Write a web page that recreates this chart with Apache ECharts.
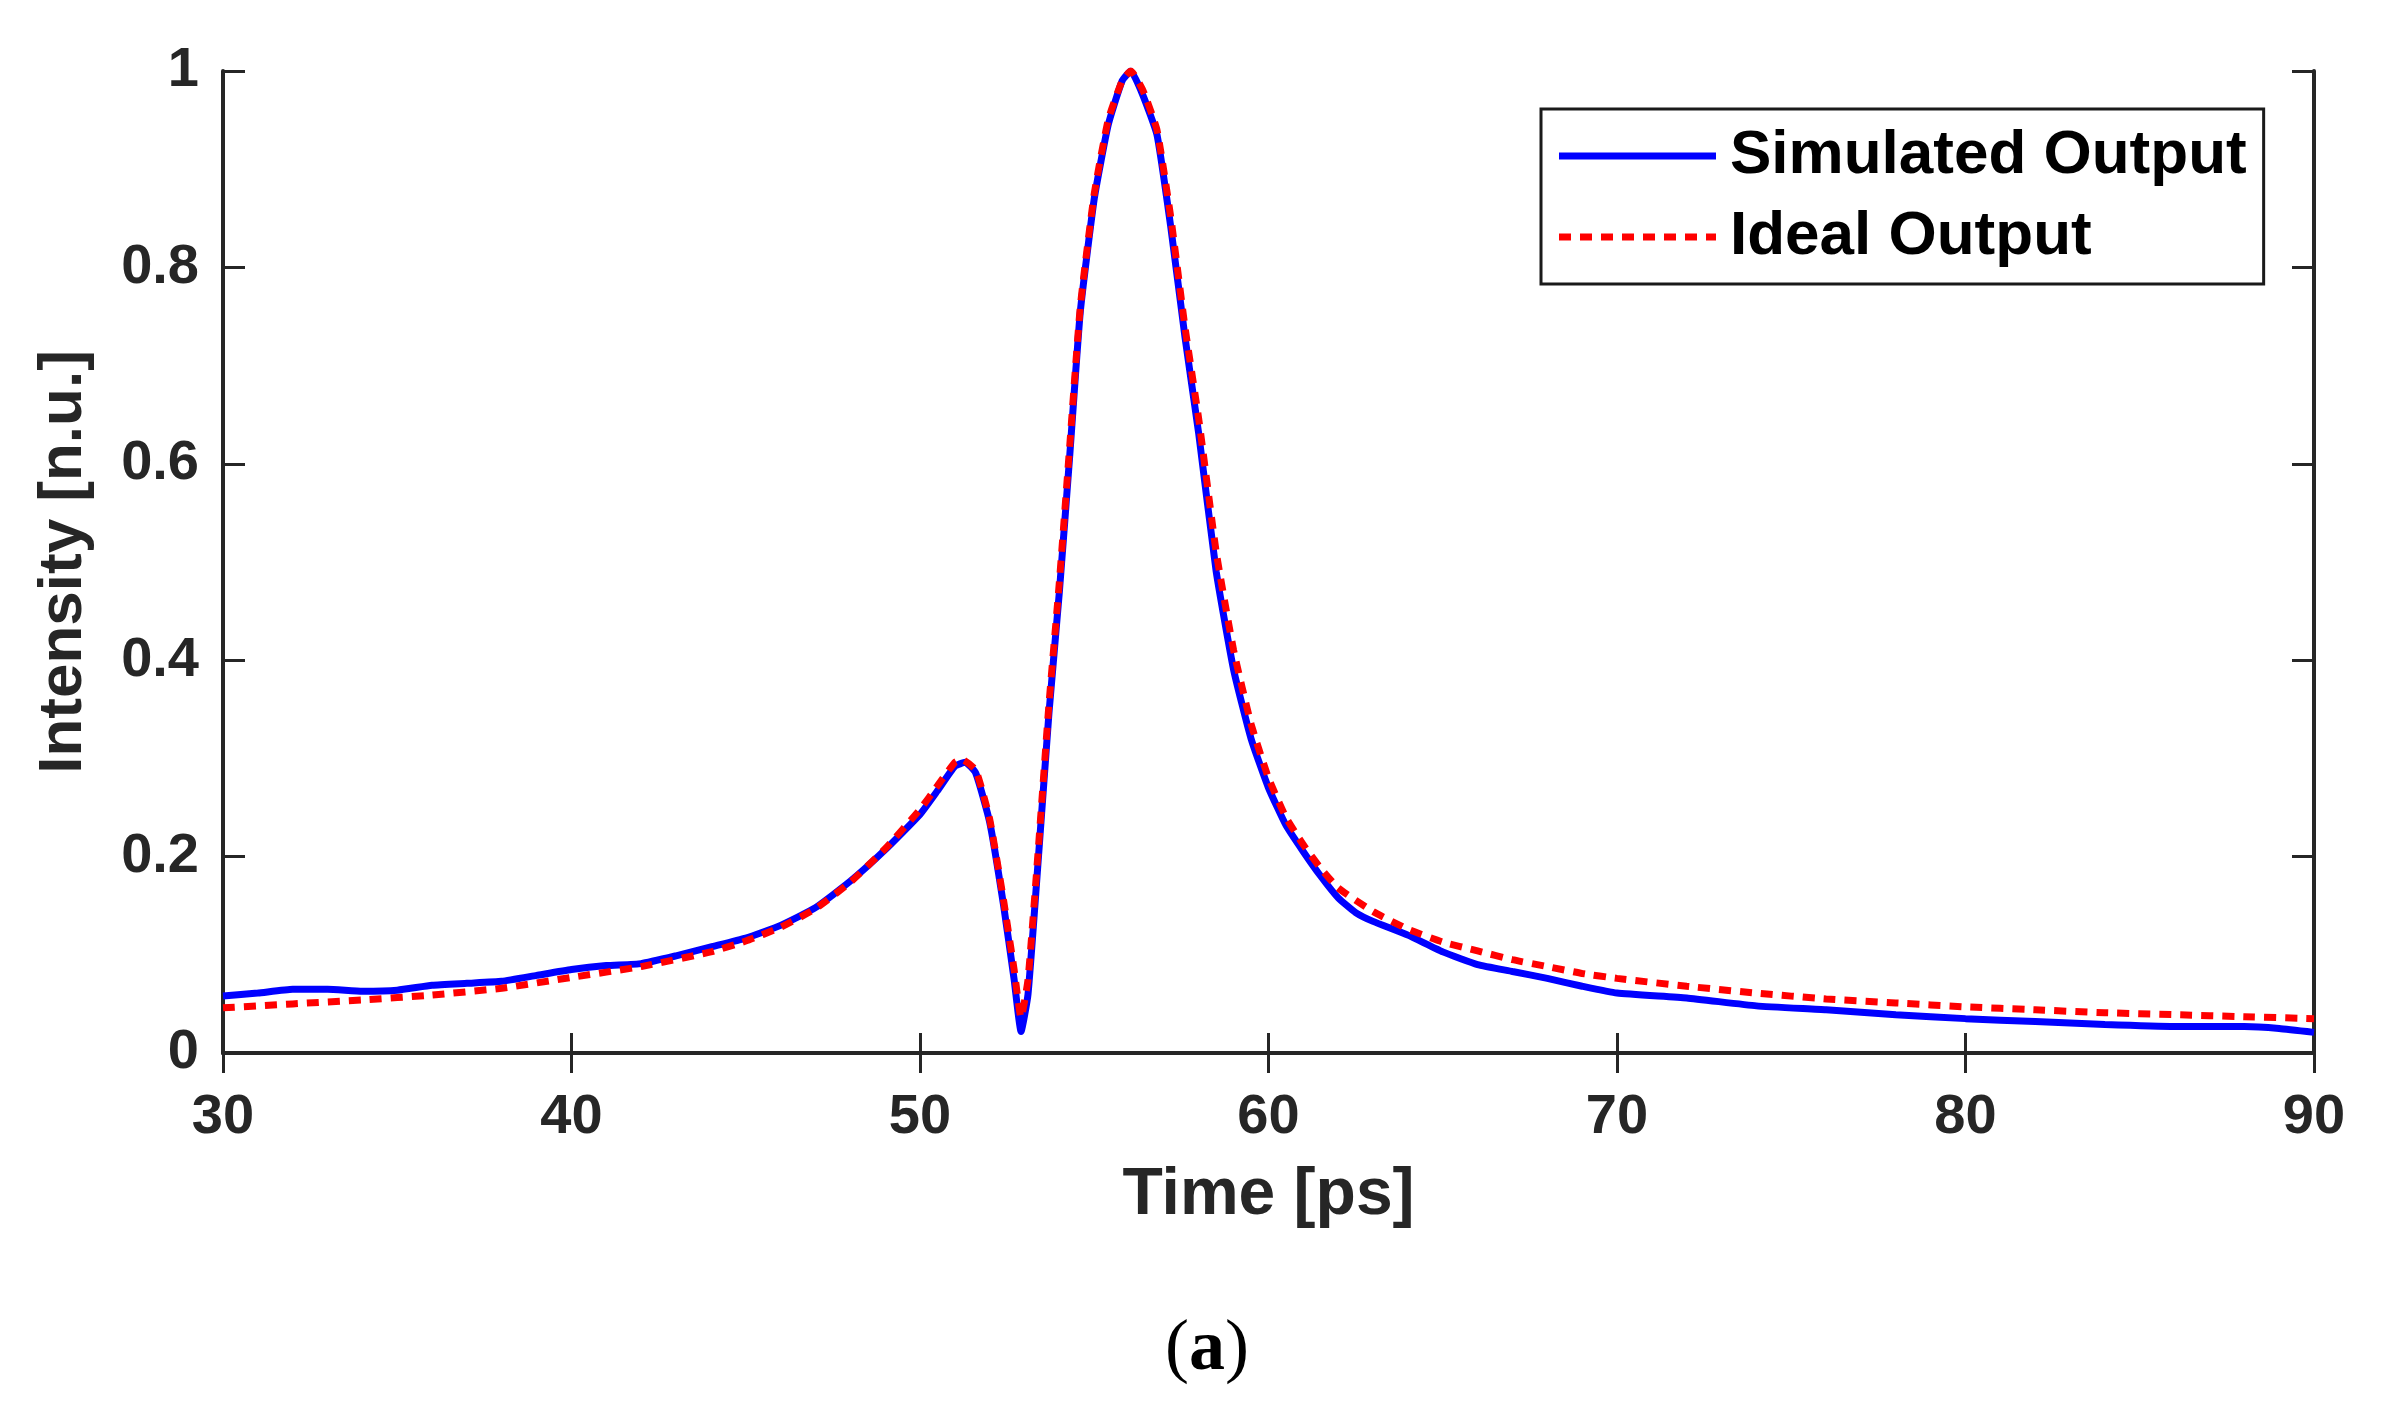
<!DOCTYPE html>
<html>
<head>
<meta charset="utf-8">
<title>Intensity vs Time</title>
<script src="https://cdn.jsdelivr.net/npm/echarts/dist/echarts.min.js"></script>
<style>
	html, body { margin: 0; padding: 0; background: #fff; }
	.chart { width: 2393px; height: 1426px; }
</style>
</head>
<body>
<div class="chart"></div>
<script>
// 仿真输出
var simTime = [30, 31, 32, 33, 34, 35, 36, 37, 38, 39, 40, 41, 42, 43, 44, 45, 46, 47, 48, 49, 50, 50.5, 51, 51.3, 51.6, 52, 52.4, 52.7, 52.9, 53.1, 53.4, 53.7, 54, 54.3, 54.6, 55, 55.4, 55.8, 56.05, 56.4, 56.8, 57.2, 57.6, 58, 58.5, 59, 59.5, 60, 60.5, 61, 61.5, 62, 62.5, 63, 64, 65, 66, 67, 68, 69, 70, 72, 74, 76, 78, 80, 82, 84, 86, 88, 89, 90];
var simIntensity = [0.058, 0.061, 0.065, 0.065, 0.063, 0.064, 0.069, 0.071, 0.073, 0.079, 0.085, 0.089, 0.091, 0.099, 0.108, 0.117, 0.130, 0.148, 0.175, 0.207, 0.243, 0.267, 0.292, 0.296, 0.285, 0.235, 0.150, 0.075, 0.022, 0.060, 0.200, 0.346, 0.470, 0.610, 0.755, 0.870, 0.945, 0.990, 1.0, 0.975, 0.935, 0.840, 0.730, 0.630, 0.490, 0.390, 0.320, 0.270, 0.232, 0.205, 0.180, 0.158, 0.143, 0.134, 0.120, 0.103, 0.090, 0.083, 0.076, 0.068, 0.061, 0.056, 0.048, 0.044, 0.039, 0.035, 0.032, 0.029, 0.027, 0.027, 0.025, 0.021];

// 理想输出
var idealTime = [30, 32, 34, 36, 38, 40, 42, 44, 45, 46, 47, 48, 49, 50, 50.5, 51, 51.2, 51.6, 52, 52.4, 52.7, 52.9, 53.1, 53.4, 53.7, 54, 54.3, 54.6, 55, 55.4, 55.8, 56.05, 56.4, 56.8, 57.2, 57.6, 58, 58.5, 59, 59.5, 60, 60.5, 61, 61.5, 62, 63, 64, 65, 66, 67, 68, 69, 70, 72, 74, 76, 78, 80, 82, 84, 86, 88, 90];
var idealIntensity = [0.046, 0.050, 0.054, 0.059, 0.066, 0.077, 0.088, 0.103, 0.114, 0.128, 0.147, 0.174, 0.208, 0.248, 0.272, 0.296, 0.299, 0.288, 0.238, 0.155, 0.085, 0.036, 0.075, 0.210, 0.355, 0.480, 0.620, 0.760, 0.875, 0.950, 0.990, 1.0, 0.980, 0.940, 0.850, 0.740, 0.645, 0.510, 0.410, 0.335, 0.280, 0.240, 0.212, 0.188, 0.168, 0.144, 0.126, 0.113, 0.104, 0.095, 0.088, 0.081, 0.076, 0.068, 0.061, 0.055, 0.051, 0.047, 0.044, 0.041, 0.039, 0.037, 0.035];

function pairs(xs, ys) {
	var out = [];
	for (var i = 0; i < xs.length; i++) {
		out.push([xs[i], ys[i]]);
	}
	return out;
}

// 图例里的点线图标
function dottedIcon(width, dash, gap, h) {
	var d = '';
	for (var x = 0; x < width; x += dash + gap) {
		var w = Math.min(dash, width - x);
		d += 'M' + x + ',0h' + w + 'v' + h + 'h-' + w + 'z';
	}
	return 'path://' + d;
}

(function(){
	var myChart = echarts.init(document.querySelector('.chart'));
	var axisColor = '#262626';
	var font = 'Liberation Sans, Arial, sans-serif';
	var serif = 'Liberation Serif, Times New Roman, serif';
	var option = {
		backgroundColor: '#fff',
		animation: false,
		grid: {
			left: 223,
			right: 79,
			top: 71,
			height: 982,
			containLabel: false
		},
		legend: {
			orient: 'vertical',
			left: 1541,
			top: 109,
			padding: [16, 17, 16, 18],
			itemGap: 19,
			itemWidth: 157,
			itemHeight: 7,
			borderColor: '#1a1a1a',
			borderWidth: 3,
			backgroundColor: '#fff',
			textStyle: {
				fontFamily: font,
				fontWeight: 'bold',
				fontSize: 62,
				lineHeight: 60,
				color: '#000',
				padding: [0, 0, 0, 9]
			},
			data: [
				{ name: 'Simulated Output', icon: 'rect' },
				{ name: 'Ideal Output', icon: dottedIcon(157, 12, 9, 7) }
			]
		},
		xAxis: [
			{
				type: 'value',
				min: 30,
				max: 90,
				interval: 10,
				name: 'Time [ps]',
				nameLocation: 'middle',
				nameGap: 110,
				nameTextStyle: {
					fontFamily: font,
					fontWeight: 'bold',
					fontSize: 66,
					color: axisColor
				},
				axisLine: { show: true, lineStyle: { color: axisColor, width: 4 } },
				axisTick: { show: true, inside: true, length: 20, lineStyle: { color: axisColor, width: 3 } },
				axisLabel: {
					margin: 37,
					fontFamily: font,
					fontWeight: 'bold',
					fontSize: 56,
					color: axisColor
				},
				splitLine: { show: false }
			},
			{
				type: 'value',
				position: 'top',
				min: 30,
				max: 90,
				interval: 10,
				axisLine: { show: true, lineStyle: { color: axisColor, width: 4 } },
				axisTick: { show: true, inside: true, length: 20, lineStyle: { color: axisColor, width: 3 } },
				axisLabel: { show: false },
				splitLine: { show: false }
			}
		],
		yAxis: [
			{
				type: 'value',
				min: 0,
				max: 1,
				interval: 0.2,
				name: 'Intensity [n.u.]',
				nameLocation: 'middle',
				nameGap: 128,
				nameTextStyle: {
					fontFamily: font,
					fontWeight: 'bold',
					fontSize: 62,
					color: axisColor
				},
				axisLine: { show: true, lineStyle: { color: axisColor, width: 4 } },
				axisTick: { show: true, inside: true, length: 22, lineStyle: { color: axisColor, width: 3 } },
				axisLabel: {
					margin: 24,
					fontFamily: font,
					fontWeight: 'bold',
					fontSize: 56,
					color: axisColor
				},
				splitLine: { show: false }
			},
			{
				type: 'value',
				position: 'right',
				min: 0,
				max: 1,
				interval: 0.2,
				axisLine: { show: true, lineStyle: { color: axisColor, width: 4 } },
				axisTick: { show: true, inside: true, length: 22, lineStyle: { color: axisColor, width: 3 } },
				axisLabel: { show: false },
				splitLine: { show: false }
			}
		],
		graphic: [
			{
				type: 'text',
				x: 1207,
				y: 1350,
				style: {
					text: '{p|(}{a|a}{p|)}',
					align: 'center',
					verticalAlign: 'middle',
					rich: {
						p: { fontFamily: serif, fontSize: 72, fill: '#000' },
						a: { fontFamily: serif, fontSize: 72, fontWeight: 'bold', fill: '#000' }
					}
				}
			}
		],
		series: [
			{
				name: 'Simulated Output',
				type: 'line',
				symbol: 'none',
				smooth: 0.15,
				color: '#0000ff',
				lineStyle: { color: '#0000ff', width: 7 },
				data: pairs(simTime, simIntensity),
				z: 2
			},
			{
				name: 'Ideal Output',
				type: 'line',
				symbol: 'none',
				smooth: 0.15,
				color: '#ff0000',
				lineStyle: { color: '#ff0000', width: 7, type: [12, 9] },
				data: pairs(idealTime, idealIntensity),
				z: 3
			}
		]
	};
	myChart.setOption(option);
	window.addEventListener("resize", function() {
		myChart.resize();
	});
})();
</script>
</body>
</html>
